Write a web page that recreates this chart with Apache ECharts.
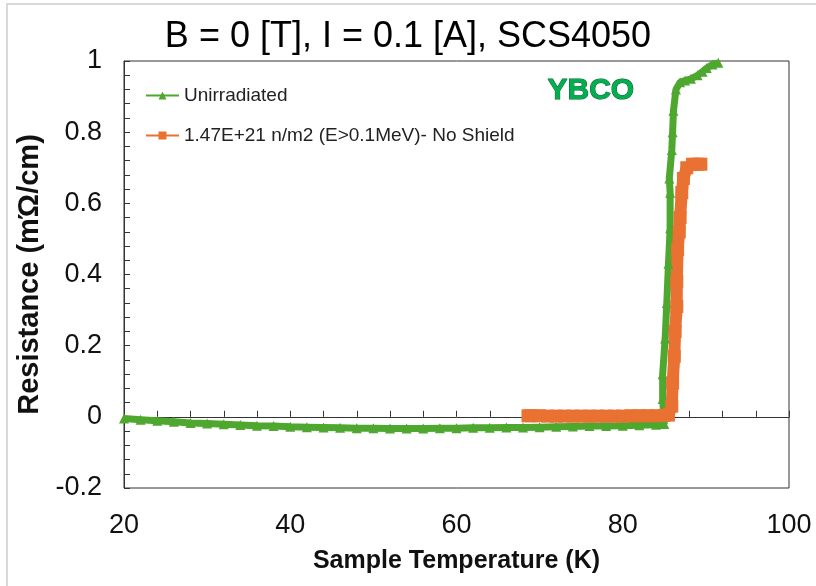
<!DOCTYPE html>
<html>
<head>
<meta charset="utf-8">
<script src="https://cdn.jsdelivr.net/npm/echarts@6/dist/echarts.min.js"></script>
<style>
  html, body { margin: 0; padding: 0; background: #fff; }
  #chart { width: 816px; height: 586px; }
</style>
</head>
<body>
<div id="chart"></div>
<script>
// Unirradiated (green triangles): [temperature K, resistance mOhm/cm]
const unirradiated = [
  [20, -0.005], [22, -0.008], [24, -0.011], [26, -0.014], [28, -0.017],
  [30, -0.019], [32, -0.021], [34, -0.023], [36, -0.025], [38, -0.026],
  [40, -0.028], [42, -0.029], [44, -0.030], [46, -0.031], [48, -0.032],
  [50, -0.032], [52, -0.033], [54, -0.033], [56, -0.033], [58, -0.032],
  [60, -0.032], [62, -0.031], [64, -0.031], [66, -0.030], [68, -0.030],
  [70, -0.029], [72, -0.028], [74, -0.027], [76, -0.026], [78, -0.026],
  [80, -0.025], [82, -0.024], [84, -0.022], [85.0, -0.020],
  [84.8, 0.05], [84.8, 0.12], [85.1, 0.22], [85.3, 0.32], [85.5, 0.43],
  [85.7, 0.53], [85.7, 0.63], [85.6, 0.67], [85.9, 0.75], [86.0, 0.80],
  [86.1, 0.86], [86.4, 0.92], [86.9, 0.94], [87.5, 0.945], [88.2, 0.95],
  [89.0, 0.96], [89.6, 0.97], [90.1, 0.98], [90.8, 0.99], [91.5, 0.995]
];

// 1.47E+21 n/m2 irradiated, no shield (orange squares)
const irradiated = [
  [68.6, 0.003], [69, 0.003], [70, 0.003], [71, 0.002], [72, 0.002],
  [73, 0.002], [74, 0.002], [75, 0.002], [76, 0.002], [77, 0.002],
  [78, 0.002], [79, 0.002], [80, 0.002], [81, 0.003], [82, 0.003],
  [83, 0.003], [84, 0.003], [85, 0.004], [85.5, 0.005],
  [85.9, 0.03], [86.0, 0.095], [86.2, 0.17], [86.3, 0.24], [86.5, 0.31],
  [86.5, 0.38], [86.6, 0.47], [86.8, 0.52], [86.9, 0.56], [87.1, 0.63],
  [87.3, 0.67], [87.7, 0.70], [88.4, 0.71], [89.0, 0.71], [89.4, 0.71]
];

const seriesNames = ['Unirradiated', '1.47E+21 n/m2 (E>0.1MeV)- No Shield'];
const seriesColors = ['#4EA72E', '#E97132'];

const chart = echarts.init(document.getElementById('chart'));
const font = 'Liberation Sans, Arial, sans-serif';

chart.setOption({
  animation: false,
  textStyle: { fontFamily: font },
  title: {
    text: 'B = 0 [T], I = 0.1 [A], SCS4050',
    left: 'center',
    top: 14,
    textStyle: { fontSize: 36, fontWeight: 'normal', color: '#000', fontFamily: font }
  },
  legend: {
    orient: 'vertical',
    left: 140,
    top: 81,
    itemGap: 21,
    itemWidth: 33,
    itemHeight: 10,
    lineStyle: { width: 2 },
    textStyle: { fontSize: 19, color: '#222', fontFamily: font },
    data: seriesNames
  },
  grid: {
    left: 124, right: 27, top: 61, bottom: 98,
    show: true, borderColor: '#333', borderWidth: 1
  },
  xAxis: [{
    type: 'value',
    min: 20, max: 100, interval: 20,
    position: 'bottom',
    axisLine: { show: false, onZero: false },
    axisTick: { show: false },
    splitLine: { show: false },
    axisLabel: { fontSize: 27, color: '#111', margin: 24, fontFamily: font },
    name: 'Sample Temperature (K)',
    nameLocation: 'middle',
    nameGap: 61,
    nameTextStyle: { fontSize: 25, fontWeight: 'bold', color: '#111', fontFamily: font }
  }, {
    type: 'value',
    min: 20, max: 100, interval: 4,
    position: 'bottom',
    axisLine: { show: true, onZero: true, lineStyle: { color: '#333', width: 1 } },
    axisTick: { show: true, inside: true, length: 6, lineStyle: { color: '#333' } },
    splitLine: { show: false },
    axisLabel: { show: false }
  }],
  yAxis: {
    type: 'value',
    min: -0.2, max: 1, interval: 0.2,
    axisLine: { show: true, onZero: false, lineStyle: { color: '#333', width: 1 } },
    axisTick: { show: true, inside: true, length: 6, lineStyle: { color: '#333' } },
    minorTick: { show: true, splitNumber: 5, length: 6, lineStyle: { color: '#333' } },
    splitLine: { show: false },
    axisLabel: { fontSize: 27, color: '#111', margin: 22, fontFamily: font },
    name: 'Resistance (m\u038F/cm)',
    nameLocation: 'middle',
    nameGap: 77,
    nameTextStyle: { fontSize: 29, fontWeight: 'bold', color: '#111', fontFamily: font }
  },
  series: [{
    name: seriesNames[0],
    type: 'line',
    xAxisIndex: 0,
    data: unirradiated,
    symbol: 'triangle',
    symbolSize: 10,
    color: seriesColors[0],
    lineStyle: { width: 7, color: seriesColors[0] },
    itemStyle: { color: seriesColors[0] }
  }, {
    name: seriesNames[1],
    type: 'line',
    xAxisIndex: 0,
    data: irradiated,
    symbol: 'rect',
    symbolSize: 13,
    color: seriesColors[1],
    lineStyle: { width: 12, color: seriesColors[1] },
    itemStyle: { color: seriesColors[1] }
  }],
  graphic: [{
    type: 'rect',
    shape: { x: 7, y: 4, width: 820, height: 600 },
    style: { fill: 'none', stroke: '#d9d9d9', lineWidth: 2 },
    silent: true
  }, {
    type: 'text',
    left: 547,
    top: 75,
    style: {
      text: 'YBCO',
      font: 'bold 30px ' + font,
      fill: '#00B050',
      stroke: '#0B5A2A',
      lineWidth: 1
    }
  }]
});
</script>
</body>
</html>
